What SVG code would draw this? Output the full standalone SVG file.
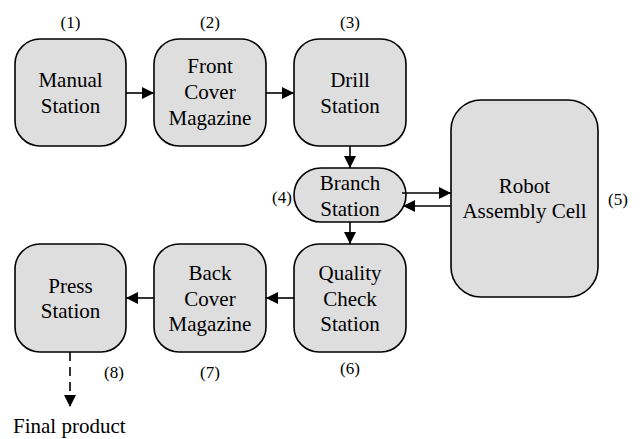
<svg xmlns="http://www.w3.org/2000/svg" width="644" height="439" viewBox="0 0 644 439">
  <style>
    .box { fill: #dedede; stroke: #000; stroke-width: 1.6; }
    .lbl { font-size: 21px; }
    .num { font-size: 17px; }
    .edge { stroke: #000; stroke-width: 1.6; fill: none; marker-end: url(#arrow); }
    .dash { stroke-dasharray: 9 6; }
  </style>
  <defs>
    <marker id="arrow" viewBox="0 0 12 12" refX="12" refY="6" markerWidth="12" markerHeight="12" markerUnits="userSpaceOnUse" orient="auto">
      <path d="M0,0 L12,6 L0,12 Z" fill="#000"/>
    </marker>
  </defs>

  <g font-family="Liberation Serif, serif" text-anchor="middle" fill="#000">
  <g id="manual-station">
    <rect class="box" x="15" y="39" width="111" height="107" rx="25"/>
    <text class="lbl" x="70.5" y="87">Manual</text>
    <text class="lbl" x="70.5" y="113">Station</text>
    <text class="num" x="70.5" y="28">(1)</text>
  </g>
  <g id="front-cover-magazine">
    <rect class="box" x="154" y="39" width="112" height="107" rx="25"/>
    <text class="lbl" x="210" y="73">Front</text>
    <text class="lbl" x="210" y="99">Cover</text>
    <text class="lbl" x="210" y="125">Magazine</text>
    <text class="num" x="210" y="28">(2)</text>
  </g>
  <g id="drill-station">
    <rect class="box" x="294" y="39" width="112" height="107" rx="25"/>
    <text class="lbl" x="350" y="87">Drill</text>
    <text class="lbl" x="350" y="113">Station</text>
    <text class="num" x="350" y="28">(3)</text>
  </g>
  <g id="branch-station">
    <rect class="box" x="294" y="168" width="112" height="54" rx="27"/>
    <text class="lbl" x="350" y="190">Branch</text>
    <text class="lbl" x="350" y="216">Station</text>
    <text class="num" x="282" y="203">(4)</text>
  </g>
  <g id="robot-assembly-cell">
    <rect class="box" x="451" y="100" width="147" height="197" rx="30"/>
    <text class="lbl" x="524.5" y="193">Robot</text>
    <text class="lbl" x="524.5" y="218">Assembly Cell</text>
    <text class="num" x="618" y="205">(5)</text>
  </g>
  <g id="quality-check-station">
    <rect class="box" x="294" y="244" width="112" height="108" rx="25"/>
    <text class="lbl" x="350" y="280">Quality</text>
    <text class="lbl" x="350" y="306">Check</text>
    <text class="lbl" x="350" y="331">Station</text>
    <text class="num" x="350" y="374">(6)</text>
  </g>
  <g id="back-cover-magazine">
    <rect class="box" x="154" y="244" width="112" height="108" rx="25"/>
    <text class="lbl" x="210" y="280">Back</text>
    <text class="lbl" x="210" y="306">Cover</text>
    <text class="lbl" x="210" y="331">Magazine</text>
    <text class="num" x="210" y="378">(7)</text>
  </g>
  <g id="press-station">
    <rect class="box" x="15" y="244" width="111" height="108" rx="25"/>
    <text class="lbl" x="70.5" y="293">Press</text>
    <text class="lbl" x="70.5" y="318">Station</text>
    <text class="num" x="114" y="378">(8)</text>
  </g>
  <g id="final-product">
    <text class="lbl" x="13" y="433" text-anchor="start">Final product</text>
  </g>
  </g>

  <g id="connectors">
    <line class="edge" x1="126" y1="93" x2="154" y2="93"/>
    <line class="edge" x1="266" y1="93" x2="294" y2="93"/>
    <line class="edge" x1="350" y1="146" x2="350" y2="168"/>
    <line class="edge" x1="350" y1="222" x2="350" y2="244"/>
    <line class="edge" x1="402" y1="193" x2="451" y2="193"/>
    <line class="edge" x1="451" y1="206" x2="403" y2="206"/>
    <line class="edge" x1="294" y1="298" x2="266" y2="298"/>
    <line class="edge" x1="154" y1="298" x2="126" y2="298"/>
    <line class="edge dash" x1="70" y1="352" x2="70" y2="407"/>
  </g>
</svg>
